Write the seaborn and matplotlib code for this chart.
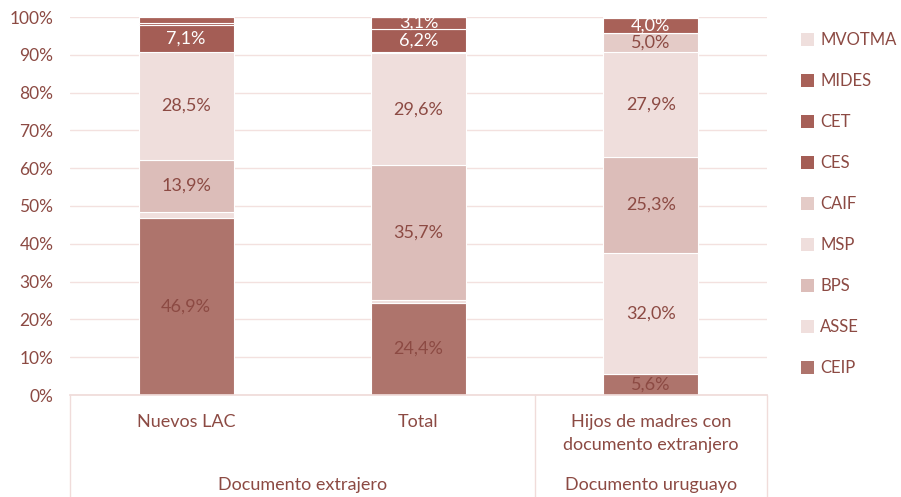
import matplotlib
matplotlib.use("Agg")
import matplotlib.pyplot as plt
import matplotlib.patches as mpatches
import matplotlib.lines as mlines
import seaborn as sns
import pandas as pd
import numpy as np

categories = ["Nuevos LAC", "Total", "Hijos de madres con\ndocumento extranjero"]
groups = ["Documento extrajero", "Documento uruguayo"]
series = ["CEIP", "ASSE", "BPS", "MSP", "CAIF", "CES", "CET", "MIDES", "MVOTMA"]

ceip = [46.9, 24.4, 5.6]
asse = [1.5, 0.7, 32.0]
bps = [13.9, 35.7, 25.3]
msp = [28.5, 29.6, 27.9]
caif = [0.0, 0.3, 5.0]
ces = [7.1, 6.2, 0.0]
cet = [0.5, 3.1, 0.0]
mides = [1.6, 0.0, 4.0]
mvotma = [0.0, 0.0, 0.2]

yticks = [0, 10, 20, 30, 40, 50, 60, 70, 80, 90, 100]

values = [ceip, asse, bps, msp, caif, ces, cet, mides, mvotma]
colors = ["#ae746c", "#f0dfdd", "#dcbdb9", "#efdedc", "#e4cbc7",
          "#a45d55", "#a65f57", "#a86158", "#efdfdd"]
label_colors = ["#8c4a43", "#8c4a43", "#8c4a43", "#8c4a43", "#8c4a43",
                "white", "white", "white", "#8c4a43"]
txt = "#8c4a43"

sns.set_theme(style="white")
plt.rcParams["font.family"] = ["Lato", "DejaVu Sans"]

fig = plt.figure(figsize=(9.01, 4.97), dpi=100)
ax = fig.add_axes([70/901, 1-395/497, (767-70)/901, (395-17)/497])

df = pd.DataFrame({"cat": categories})
bottom = np.zeros(len(categories))
for name, vals, col, lc in zip(series, values, colors, label_colors):
    vals = np.array(vals)
    df["v"] = vals
    n_before = len(ax.patches)
    sns.barplot(data=df, x="cat", y="v", color=col, width=0.41, ax=ax,
                bottom=bottom, edgecolor="white", linewidth=0.8,
                saturation=1, errorbar=None)
    for i, p in enumerate(ax.patches[n_before:]):
        v = vals[i]
        if v >= 3:
            ax.text(p.get_x() + p.get_width()/2, bottom[i] + v/2,
                    f"{v:.1f}%".replace(".", ","), ha="center", va="center",
                    color=lc, fontsize=13)
    bottom = bottom + vals

ax.set_ylim(0, 100)
ax.set_xlim(-0.5, 2.5)
ax.set_yticks(yticks)
ax.set_yticklabels([f"{t}%" for t in yticks], color=txt, fontsize=12.5)
ax.yaxis.grid(True, color="#f3e1df", linewidth=1)
ax.set_axisbelow(True)
ax.set_xlabel("")
ax.set_ylabel("")
ax.set_xticks(range(3))
ax.set_xticklabels(categories, color=txt, fontsize=13, linespacing=1.5)
ax.tick_params(axis="x", length=0, pad=14)
ax.tick_params(axis="y", length=0, pad=12)
for s in ["top", "right", "left"]:
    ax.spines[s].set_visible(False)
ax.spines["bottom"].set_color("#f0dcda")

# group separators and labels
for xp in [70, 535, 767]:
    fig.add_artist(mlines.Line2D([xp/901, xp/901], [0, 1-395/497],
                                 color="#f0dcda", linewidth=1))
fig.text(303/901, 1-485/497, groups[0], ha="center", va="center", color=txt, fontsize=13)
fig.text(651/901, 1-485/497, groups[1], ha="center", va="center", color=txt, fontsize=13)

handles = [mpatches.Patch(facecolor=c, edgecolor="none", label=s)
           for s, c in zip(series, colors)][::-1]
fig.legend(handles=handles, loc="upper left", bbox_to_anchor=(786/901, 1-17/497),
           frameon=False, fontsize=12, labelcolor=txt, handlelength=0.8,
           handleheight=0.8, handletextpad=0.35, labelspacing=1.5)

fig.savefig("out.png", dpi=100)
